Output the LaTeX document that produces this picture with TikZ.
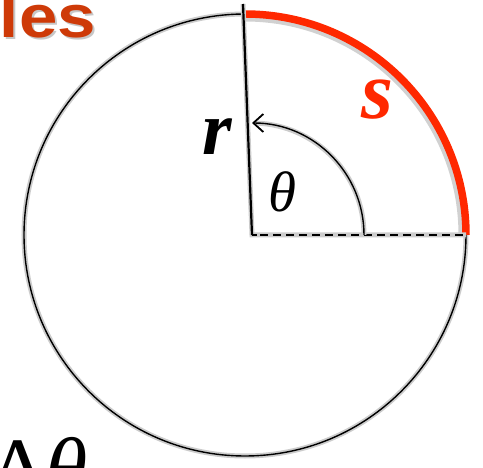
\documentclass[tikz,border=0pt]{standalone}
\usepackage{fontspec}
\setmainfont{Liberation Serif}
\newfontfamily\titlefont{Liberation Sans}
\usetikzlibrary{arrows.meta}
\definecolor{titleorange}{RGB}{206,58,8}
\definecolor{arcred}{RGB}{255,40,0}
\tikzset{
  halo/.style={draw=black!20, line width=5pt},
  thinline/.style={draw=black, line width=1.4pt},
  radline/.style={draw=black, line width=2.2pt},
  lbl/.style={inner sep=0pt, anchor=base},
}
\begin{document}
\begin{tikzpicture}[x=1pt,y=1pt]
\useasboundingbox (0,0) rectangle (483,467);
\clip (0,0) rectangle (483,467);
\coordinate (C) at (245,232);
\coordinate (O) at (252,232);
\coordinate (Top) at (243,463);
\coordinate (E) at (466,232);
\coordinate (O2) at (257,232);
% title fragment
\node[inner sep=0pt, anchor=base east, text=black!22, xscale=1.15] at (98,427.5) {\titlefont\bfseries\fontsize{60}{60}\selectfont les};
\node[inner sep=0pt, anchor=base east, text=titleorange, xscale=1.15] (title) at (96,429.5) {\titlefont\bfseries\fontsize{60}{60}\selectfont les};
% circle
\path[halo] (C) circle[radius=221pt];
\path[thinline] (C) circle[radius=221pt];
% red arc
\draw[black!18, line width=9pt] (245,450) arc[start angle=90, end angle=0, radius=218pt];
\draw[arcred, line width=7.5pt] (245,453) arc[start angle=90, end angle=0, radius=221pt];
% radius line
\path[halo] (Top) -- (O) -- (E);
\path[radline] (Top) -- (O);
\draw[black, line width=2.8pt] (O) -- (O2);
\draw[black, line width=2.8pt, dash pattern=on 8pt off 5pt, dash phase=-3pt] (O2) -- (E);
% theta arc
\path[halo] (364,232) arc[start angle=0, end angle=88, radius=112pt];
\draw[thinline, -{Straight Barb[length=10pt,width=18pt,line width=1.8pt]}] (364,232) arc[start angle=0, end angle=90, radius=112pt];
% labels
\node[lbl] (rlab) at (217,312) {\bfseries\itshape\fontsize{76}{76}\selectfont r};
\node[lbl] (thlab) at (282,255) {\itshape\fontsize{57}{57}\selectfont θ};
\node[lbl, text=arcred] (slab) at (377,348) {\bfseries\itshape\fontsize{82}{82}\selectfont s};
\node[inner sep=0pt, anchor=base west] (dth) at (-10,-30) {\fontsize{86}{86}\selectfont Δ\itshape θ};
\end{tikzpicture}
\end{document}
